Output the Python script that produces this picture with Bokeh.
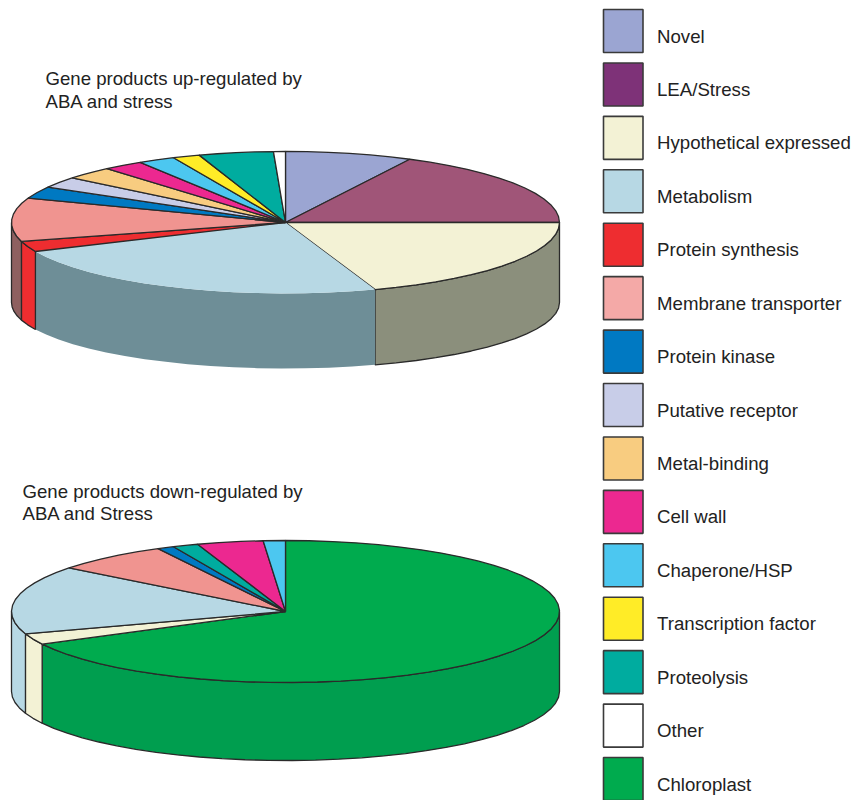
from bokeh.embed import file_html
from bokeh.models import Range1d
from bokeh.plotting import figure
from bokeh.resources import INLINE
from bokeh.core.properties import value
import numpy as np

# Legend entries, top to bottom
categories = ["Novel", "LEA/Stress", "Hypothetical expressed", "Metabolism",
              "Protein synthesis", "Membrane transporter", "Protein kinase",
              "Putative receptor", "Metal-binding", "Cell wall", "Chaperone/HSP",
              "Transcription factor", "Proteolysis", "Other", "Chloroplast"]
legend_colors = ["#9BA5D2", "#7E3278", "#F3F2D5", "#B7D8E4", "#EE2D30", "#F4A9A7",
                 "#0079C2", "#C8CDE8", "#F8CC80", "#EC2890", "#4CC7F0", "#FFEC27",
                 "#00AC9F", "#FFFFFF", "#00AB4E"]

# Share of gene products per category (percent), clockwise from twelve o'clock
up_categories = categories[:14]
up_values = [7.5, 17.5, 19.7, 23.6, 2.4, 9.9, 2.7, 2.5, 2.9, 2.4, 2.2, 1.6, 4.4, 0.7]
down_categories = ["Chloroplast", "Hypothetical expressed", "Metabolism",
                   "Membrane transporter", "Protein kinase", "Proteolysis",
                   "Cell wall", "Chaperone/HSP"]
down_values = [67.4, 2.5, 15.6, 6.8, 1.0, 1.5, 3.9, 1.3]

# Per-pie colours where a face is not drawn in its legend colour
up_top = {"LEA/Stress": "#A05578", "Membrane transporter": "#F09490"}
up_side = {"Hypothetical expressed": "#8B8F7C", "Metabolism": "#6E8E97",
           "Membrane transporter": "#8E6060", "Protein synthesis": "#EE2D30"}
down_top = {"Membrane transporter": "#F09490"}
down_side = {"Chloroplast": "#009E4F", "Hypothetical expressed": "#F3F2D5",
             "Metabolism": "#B7D8E4"}

EDGE = "#2A2A2A"
FONT = value("Liberation Sans")
STEP = np.radians(5)  # rim facet length

p = figure(width=852, height=800, x_range=Range1d(0, 852), y_range=Range1d(800, 0),
           output_backend="svg", toolbar_location=None, min_border=0)
p.axis.visible = False
p.grid.visible = False
p.outline_line_color = None


def rim(cx, cy, rx, ry, t0, t1):
    n = int(np.ceil((t1 - t0) / STEP)) + 1
    t = np.linspace(t0, t1, max(n, 2))
    return cx + rx * np.sin(t), cy - ry * np.cos(t)


def pie3d(names, values, tops, sides, cx, cy, rx, ry, drop, base_ry, unstroked=()):
    vals = np.asarray(values, dtype=float)
    edges = np.concatenate([[0.0], np.cumsum(vals) / vals.sum() * 2 * np.pi])
    color = dict(zip(categories, legend_colors))

    # Outer wall: only the front half of the rim is visible
    for name, a0, a1 in zip(names, edges[:-1], edges[1:]):
        lo, hi = max(a0, np.pi / 2), min(a1, 3 * np.pi / 2)
        if hi <= lo:
            continue
        x, y = rim(cx, cy, rx, ry, lo, hi)
        xb, yb = rim(cx, cy + drop, rx, base_ry, lo, hi)
        p.patch(np.r_[x, xb[::-1]], np.r_[y, yb[::-1]],
                fill_color=sides.get(name, color[name]),
                line_color=None if name in unstroked else EDGE, line_width=1.3)

    # Top face wedges
    for name, a0, a1 in zip(names, edges[:-1], edges[1:]):
        x, y = rim(cx, cy, rx, ry, a0, a1)
        p.patch(np.r_[cx, x], np.r_[cy, y],
                fill_color=tops.get(name, color[name]),
                line_color=None if name in unstroked else EDGE, line_width=1.3)


pie3d(up_categories, up_values, up_top, up_side, 285, 222, 274, 71, 80, 66,
      unstroked=("Metabolism",))
pie3d(down_categories, down_values, down_top, down_side, 285, 611, 274, 71, 80, 69)

# Pie titles
p.text([45, 45], [78, 101], text=["Gene products up-regulated by", "ABA and stress"],
       text_font=FONT, text_font_size="18.6px", text_color="#222222",
       text_baseline="middle", text_align="left")
p.text([22, 22], [491, 513], text=["Gene products down-regulated by", "ABA and Stress"],
       text_font=FONT, text_font_size="18.6px", text_color="#222222",
       text_baseline="middle", text_align="left")

# Legend column
rows = np.arange(len(categories))
box_top = 9 + rows * 53.43
p.quad(left=603, right=642.5, top=box_top, bottom=box_top + 43,
       fill_color=legend_colors, line_color="#3A3A3A", line_width=1.6)
p.text(656.5, box_top + 26.5, text=categories, text_font=FONT, text_font_size="18.65px",
       text_color="#222222", text_baseline="middle", text_align="left")

open("out.html", "w").write(file_html(p, INLINE))
